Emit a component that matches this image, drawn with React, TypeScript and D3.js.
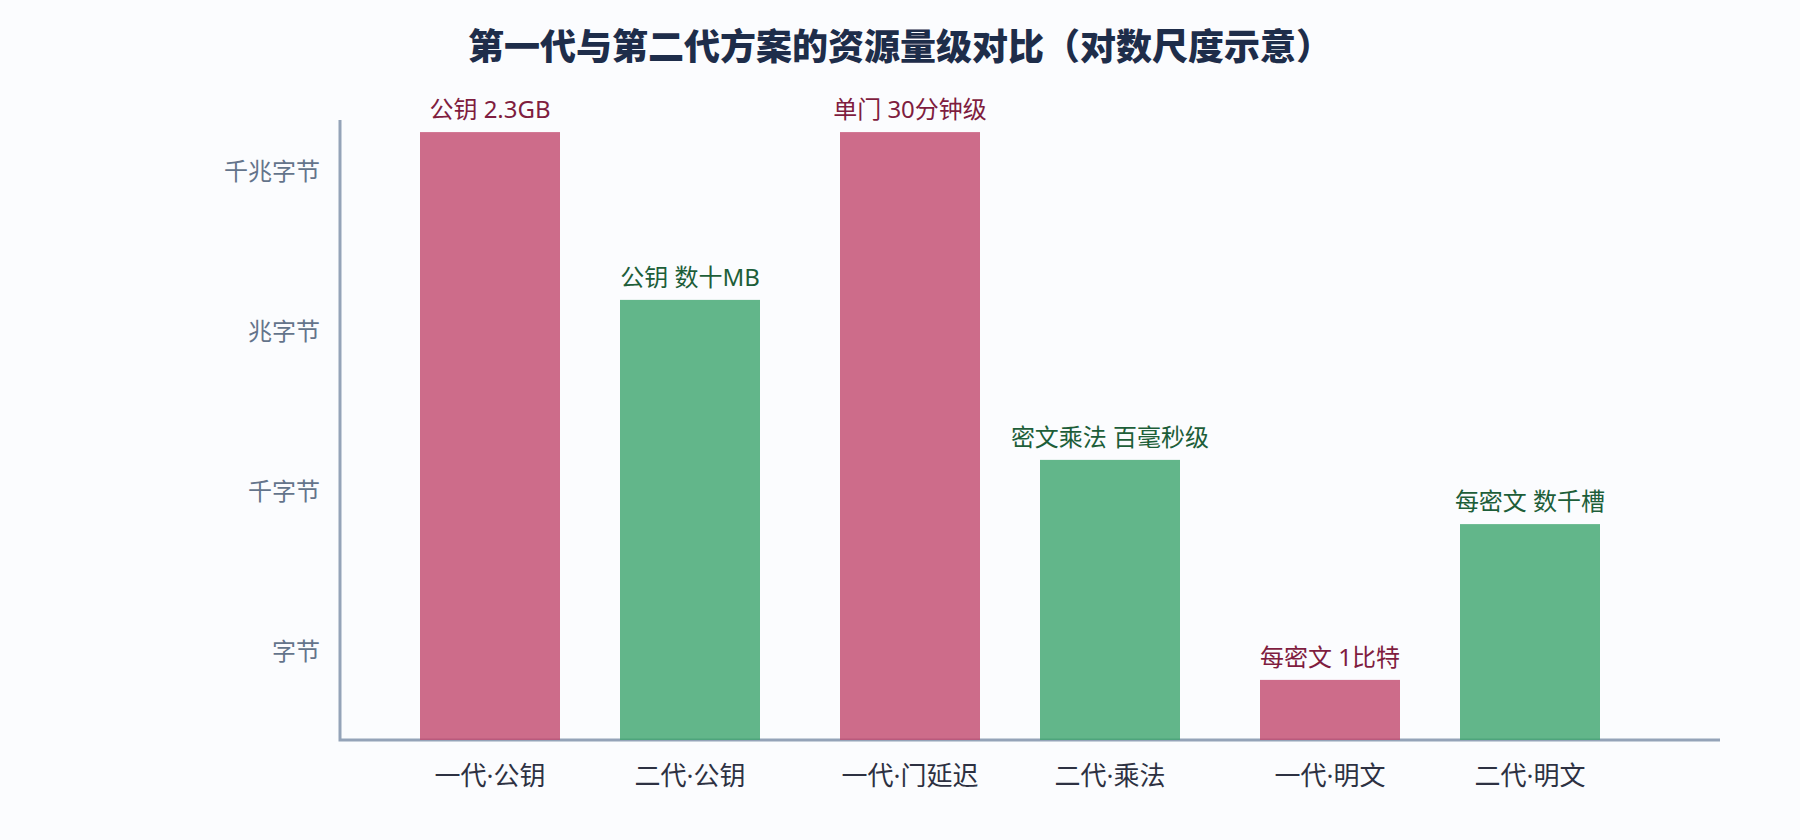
import React, { useEffect } from "react";
import * as d3 from "d3";

const TITLE = "第一代与第二代方案的资源量级对比（对数尺度示意）";
const categories = ["一代·公钥", "二代·公钥", "一代·门延迟", "二代·乘法", "一代·明文", "二代·明文"];
const groups = ["公钥", "运算", "明文"];
const generations = ["一代", "二代"];
const barGroup = ["公钥", "公钥", "运算", "运算", "明文", "明文"];
const barGen = ["一代", "二代", "一代", "二代", "一代", "二代"];
const values = [5.6e9, 4e6, 5.6e9, 4e3, 0.3, 250];
const valueLabels = ["公钥 2.3GB", "公钥 数十MB", "单门 30分钟级", "密文乘法 百毫秒级", "每密文 1比特", "每密文 数千槽"];
const tickValues = [1, 1e3, 1e6, 1e9];
const tickLabels = ["字节", "千字节", "兆字节", "千兆字节"];

const W = 1800;
const H = 840;
const FONT = "'Noto Sans', 'Noto Sans CJK SC', sans-serif";

const genColor: Record<string, string> = { 一代: "#c2476d", 二代: "#3ca46d" };
const genLabelColor: Record<string, string> = { 一代: "#7f1d3f", 二代: "#1d5e39" };

export default function App() {
  useEffect(() => {
    document.body.style.margin = "0";
  }, []);

  const axisLeft = 340;
  const axisRight = 1720;
  const axisTop = 120;
  const axisBottom = 740;

  const y = d3
    .scaleLog()
    .domain([Math.pow(10, -1.65), Math.pow(10, 9.975)])
    .range([axisBottom, axisTop]);

  const x0 = d3.scaleBand<string>().domain(groups).range([380, 1640]).padding(0);
  const x1 = d3
    .scaleBand<string>()
    .domain(generations)
    .range([0, x0.bandwidth()])
    .paddingInner(0.3)
    .paddingOuter(0.2);

  return (
    <div style={{ position: "absolute", left: 0, top: 0 }}>
      <svg width={W} height={H} style={{ display: "block", background: "#fbfcfe" }} fontFamily={FONT}>
        <rect x={0} y={0} width={W} height={H} fill="#fbfcfe" />
        <text x={W / 2} y={60} textAnchor="middle" fontSize={36} fontWeight={900} fill="#1e2d4a">
          {TITLE}
        </text>

        {tickValues.map((t, i) => (
          <text key={t} x={axisLeft - 20} y={y(t)} dy="0.35em" textAnchor="end" fontSize={24} fill="#64748b">
            {tickLabels[i]}
          </text>
        ))}

        <path
          d={`M${axisLeft},${axisTop}V${axisBottom}H${axisRight}`}
          fill="none"
          stroke="#94a3b8"
          strokeWidth={3}
        />

        {categories.map((c, i) => {
          const bx = (x0(barGroup[i]) ?? 0) + (x1(barGen[i]) ?? 0);
          const bw = x1.bandwidth();
          const top = y(values[i]);
          return (
            <g key={c}>
              <rect
                x={bx}
                y={top}
                width={bw}
                height={axisBottom - top}
                fill={genColor[barGen[i]]}
                fillOpacity={0.8}
              />
              <text
                x={bx + bw / 2}
                y={top - 14}
                textAnchor="middle"
                fontSize={24}
                fill={genLabelColor[barGen[i]]}
              >
                {valueLabels[i]}
              </text>
              <text x={bx + bw / 2} y={axisBottom + 45} textAnchor="middle" fontSize={26} fill="#2d3142">
                {c}
              </text>
            </g>
          );
        })}
      </svg>
    </div>
  );
}
